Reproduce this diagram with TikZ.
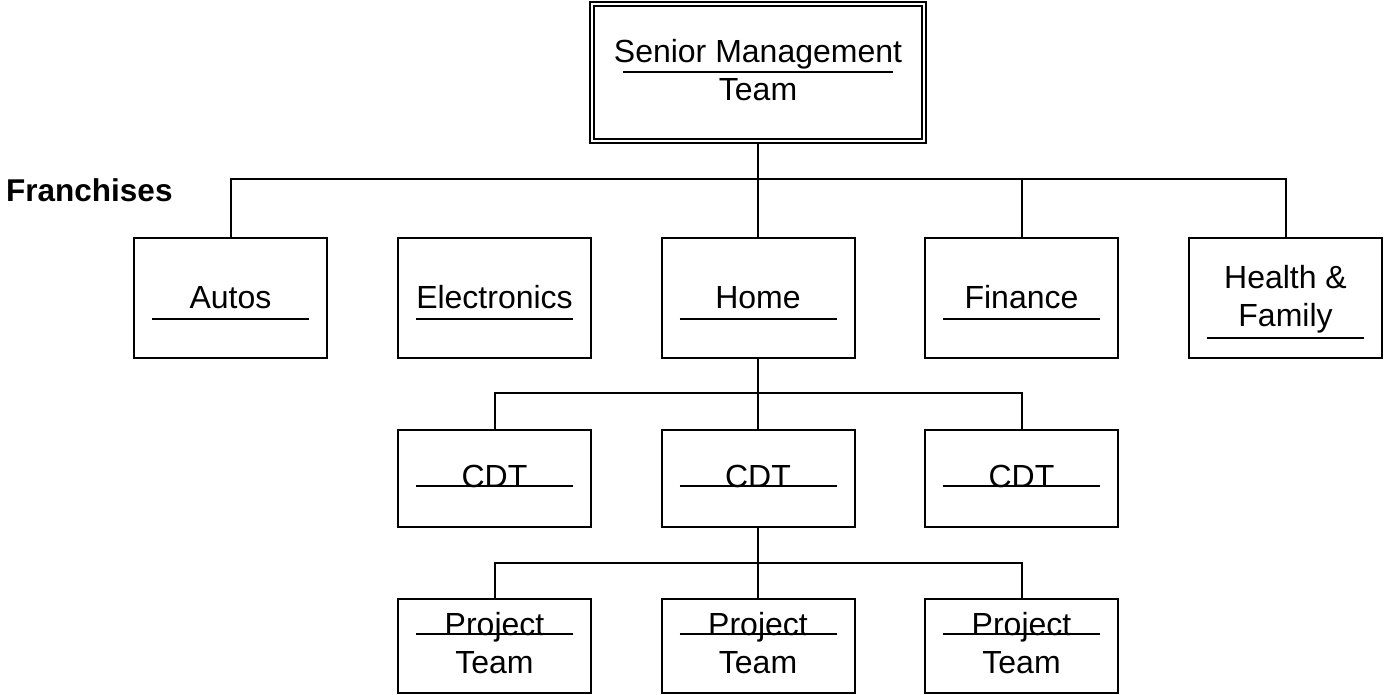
\documentclass[tikz,border=0pt]{standalone}
\usepackage{fontspec}
\setmainfont{Liberation Sans}
\usetikzlibrary{calc}
\begin{document}
\begin{tikzpicture}[x=1pt,y=1pt,
  boxline/.style={draw=black, line width=2pt},
  unitbox/.style={boxline, rectangle, inner sep=0pt, minimum width=193pt},
  franbox/.style={unitbox, minimum height=120pt},
  cdtbox/.style={unitbox, minimum height=97pt},
  projbox/.style={unitbox, minimum height=94pt},
  topbox/.style={draw=black, line width=1.8pt, double=white, double distance=2pt,
    rectangle, inner sep=0pt, minimum width=332pt, minimum height=137pt},
  lbl/.style={anchor=base, inner sep=0pt, font=\fontsize{32}{37.5}\selectfont},
  uline/.style={draw=black, line width=1.8pt},
  conn/.style={draw=black, line width=2pt}]
\useasboundingbox (0,0) rectangle (1384,695);

% top of the organisation
\node[topbox] (smt) at (758,622.5) {};
\node[lbl] (smtA) at ($(smt.south)+(0,79)$) {Senior Management};
\node[lbl] (smtB) at ($(smt.south)+(0,41)$) {Team};
\draw[uline] ($(smt.south west)+(31.5,70)$) -- ($(smt.south east)+(-31.5,70)$);

% franchise row
\node[anchor=base west, inner sep=0pt, font=\fontsize{31.5}{37}\selectfont\bfseries]
  (fran) at (6,493) {Franchises};
\node[franbox] (autos) at (230.5,397) {};
\node[franbox] (elec)  at (494.5,397) {};
\node[franbox] (home)  at (758,397) {};
\node[franbox] (fin)   at (1021.5,397) {};
\node[franbox] (hlth)  at (1285.5,397) {};
\foreach \n/\t in {autos/Autos, elec/Electronics, home/Home, fin/Finance}{
  \node[lbl] (\n-t) at ($(\n.south)+(0,50)$) {\t};
  \draw[uline] ($(\n.south west)+(19,40)$) -- ($(\n.south east)+(-19,40)$);
}
\node[lbl] (hlth-a) at ($(hlth.south)+(0,70)$) {Health \&};
\node[lbl] (hlth-b) at ($(hlth.south)+(0,32)$) {Family};
\draw[uline] ($(hlth.south west)+(19,21)$) -- ($(hlth.south east)+(-19,21)$);

% CDT row
\node[cdtbox] (cdtA) at (494.5,216.5) {};
\node[cdtbox] (cdtB) at (758,216.5) {};
\node[cdtbox] (cdtC) at (1021.5,216.5) {};
\foreach \n in {cdtA, cdtB, cdtC}{
  \draw[uline] ($(\n.south west)+(19,42)$) -- ($(\n.south east)+(-19,42)$);
  \node[lbl] (\n-t) at ($(\n.south)+(0,40)$) {CDT};
}

% project team row
\node[projbox] (prA) at (494.5,49) {};
\node[projbox] (prB) at (758,49) {};
\node[projbox] (prC) at (1021.5,49) {};
\foreach \n in {prA, prB, prC}{
  \draw[uline] ($(\n.south west)+(19,60)$) -- ($(\n.south east)+(-19,60)$);
  \node[lbl] (\n-a) at ($(\n.south)+(0,58)$) {Project};
  \node[lbl] (\n-b) at ($(\n.south)+(0,20)$) {Team};
}

% connectors
\coordinate (busA) at (0,515.5);
\coordinate (busB) at (0,301.5);
\coordinate (busC) at (0,132);
\draw[conn] (smt.south) -- (smt.south |- busA);
\draw[conn] (autos.north) -- (autos.north |- busA) -- (hlth.north |- busA) -- (hlth.north);
\draw[conn] (home.north) -- (home.north |- busA);
\draw[conn] (fin.north) -- (fin.north |- busA);

\draw[conn] (home.south) -- (home.south |- busB);
\draw[conn] (cdtA.north) -- (cdtA.north |- busB) -- (cdtC.north |- busB) -- (cdtC.north);
\draw[conn] (cdtB.north) -- (cdtB.north |- busB);

\draw[conn] (cdtB.south) -- (cdtB.south |- busC);
\draw[conn] (prA.north) -- (prA.north |- busC) -- (prC.north |- busC) -- (prC.north);
\draw[conn] (prB.north) -- (prB.north |- busC);
\end{tikzpicture}
\end{document}
